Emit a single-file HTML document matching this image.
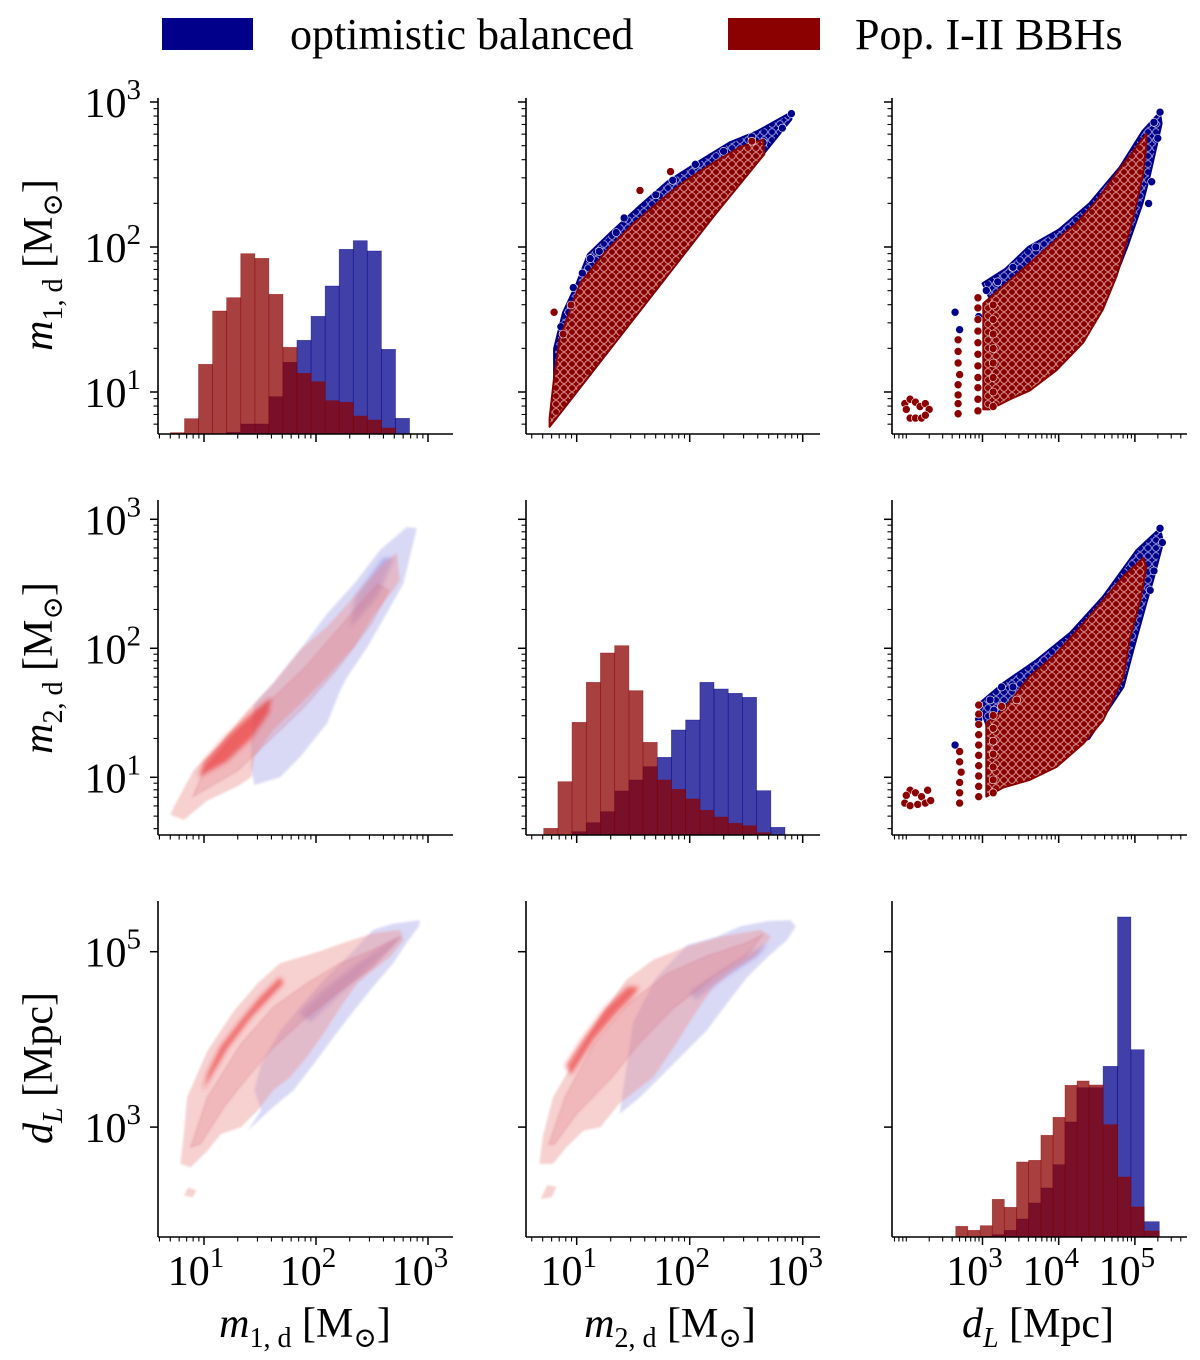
<!DOCTYPE html>
<html><head><meta charset="utf-8">
<style>
html,body{margin:0;padding:0;background:#fff;}
svg{display:block;}
text{font-family:"Liberation Serif","DejaVu Serif",serif;fill:#000;}
</style></head>
<body>
<svg id="fig" xmlns="http://www.w3.org/2000/svg" width="1200" height="1360" viewBox="0 0 1200 1360">
<defs>
<pattern id="dotsR" width="8" height="8" patternUnits="userSpaceOnUse">
<rect width="8" height="8" fill="#8b0000"/>
<circle cx="4" cy="4" r="3.4" fill="#8b0000" stroke="#e8b8b8" stroke-width="0.8"/>
</pattern>
<pattern id="dotsB" width="8" height="8" patternUnits="userSpaceOnUse">
<rect width="8" height="8" fill="#00008b"/>
<circle cx="4" cy="4" r="3.4" fill="#00008b" stroke="#b8b8e8" stroke-width="0.8"/>
</pattern>
<filter id="soft" x="-20%" y="-20%" width="140%" height="140%"><feGaussianBlur stdDeviation="1"/></filter>
<filter id="soft2" x="-20%" y="-20%" width="140%" height="140%"><feGaussianBlur stdDeviation="2.5"/></filter>
</defs>
<g>
<rect x="162" y="18" width="91" height="32" fill="#00008b"/>
<text x="290" y="49" font-size="44">optimistic balanced</text>
<rect x="728" y="18" width="92" height="32" fill="#8b0000"/>
<text x="855" y="49" font-size="44">Pop. I-II BBHs</text>
</g>
<g id="plots"></g>
<g>
<text transform="translate(52,265) rotate(-90)" text-anchor="middle" font-size="42"><tspan font-style="italic">m</tspan><tspan font-size="28" dy="10">1, d</tspan><tspan dy="-10"> [M</tspan><tspan font-size="28" dy="10">⊙</tspan><tspan dy="-10">]</tspan></text>
<text transform="translate(52,668) rotate(-90)" text-anchor="middle" font-size="42"><tspan font-style="italic">m</tspan><tspan font-size="28" dy="10">2, d</tspan><tspan dy="-10"> [M</tspan><tspan font-size="28" dy="10">⊙</tspan><tspan dy="-10">]</tspan></text>
<text transform="translate(52,1068) rotate(-90)" text-anchor="middle" font-size="42"><tspan font-style="italic">d</tspan><tspan font-size="28" font-style="italic" dy="10">L</tspan><tspan dy="-10"> [Mpc]</tspan></text>
<text x="305" y="1337" text-anchor="middle" font-size="42"><tspan font-style="italic">m</tspan><tspan font-size="28" dy="10">1, d</tspan><tspan dy="-10"> [M</tspan><tspan font-size="28" dy="10">⊙</tspan><tspan dy="-10">]</tspan></text>
<text x="670" y="1337" text-anchor="middle" font-size="42"><tspan font-style="italic">m</tspan><tspan font-size="28" dy="10">2, d</tspan><tspan dy="-10"> [M</tspan><tspan font-size="28" dy="10">⊙</tspan><tspan dy="-10">]</tspan></text>
<text x="1038" y="1337" text-anchor="middle" font-size="42"><tspan font-style="italic">d</tspan><tspan font-size="28" font-style="italic" dy="10">L</tspan><tspan dy="-10"> [Mpc]</tspan></text>
</g>
</svg>
<script>
// ---------- data (log10 units; hist counts arbitrary) ----------
const m1Edges = [0.700,0.826,0.951,1.077,1.202,1.328,1.454,1.579,1.705,1.830,1.956,2.082,2.207,2.333,2.458,2.584,2.710,2.835];
const m1CountsPop = [4,46,209,369,409,541,527,419,260,182,157,100,95,54,42,18,0];
const m1CountsOpt = [0,0,0,0,5,30,30,112,215,281,353,444,554,580,549,254,47];
const m2Edges = [0.708,0.834,0.959,1.085,1.210,1.336,1.462,1.587,1.713,1.838,1.964,2.090,2.215,2.341,2.466,2.592,2.718,2.843];
const m2CountsPop = [20,160,338,458,546,568,433,278,165,137,108,74,54,35,28,7,0];
const m2CountsOpt = [0,0,10,37,70,132,165,205,233,315,345,458,438,425,413,133,23];
const dlEdges = [2.649,2.807,2.970,3.128,3.286,3.447,3.605,3.767,3.925,4.083,4.241,4.399,4.583,4.772,4.947,5.122,5.320];
const dlCountsPop = [32,20,34,113,89,225,230,305,359,455,468,456,337,180,90,18];
const dlCountsOpt = [0,0,2,7,20,54,102,147,217,345,448,448,512,960,562,46];

// scatter envelopes (m2 vs m1)
const s12PopBand = [[0.76,0.82],[0.80,1.10],[0.85,1.37],[1.03,1.75],[1.27,1.98],[1.50,2.16],[1.74,2.32],[1.97,2.46],[2.21,2.58],[2.45,2.69],[2.65,2.74],[2.66,2.64],[2.20,2.20],[1.60,1.60],[1.10,1.10],[0.76,0.76]];
const s12OptBand = [[0.80,1.30],[0.88,1.55],[1.00,1.75],[1.10,1.95],[1.30,2.10],[1.55,2.28],[1.80,2.45],[2.10,2.60],[2.35,2.72],[2.60,2.80],[2.90,2.93],[2.90,2.88],[2.30,2.30],[1.50,1.50],[0.80,0.80]];
const s12OptPts = [[0.86,1.45],[0.93,1.55],[0.97,1.72],[1.05,1.82],[1.12,1.92],[1.20,1.97],[1.35,2.10],[1.42,2.20],[1.70,2.36],[1.85,2.46],[2.05,2.57],[2.30,2.66],[2.55,2.76],[2.65,2.72],[2.82,2.82],[2.90,2.92]];
const s12PopPts = [[0.80,1.55],[0.88,1.40],[1.56,2.39],[1.83,2.52],[2.55,2.73],[0.95,1.60]];
// dL vs m1
const s13PopBand = [[3.01,1.61],[3.36,1.77],[3.71,1.93],[3.97,2.05],[4.23,2.16],[4.50,2.32],[4.76,2.51],[5.02,2.69],[5.15,2.78],[5.15,2.70],[5.11,2.51],[4.98,2.21],[4.85,1.96],[4.76,1.80],[4.58,1.57],[4.32,1.34],[3.97,1.15],[3.62,1.01],[3.36,0.95],[3.10,0.88],[3.01,0.88]];
const s13OptBand = [[3.00,1.75],[3.30,1.85],[3.60,2.00],[4.00,2.12],[4.40,2.30],[4.80,2.55],[5.10,2.80],[5.33,2.93],[5.35,2.85],[5.20,2.50],[5.10,2.30],[4.90,2.00],[4.60,1.60],[3.50,1.20]];
const s13PopPts = [[1.98,0.92],[2.05,0.95],[2.12,0.93],[2.18,0.90],[2.25,0.92],[2.30,0.88],[2.05,0.82],[2.12,0.82],[2.20,0.82],[2.25,0.84],[2.00,0.88],
 [2.68,0.85],[2.68,0.92],[2.68,0.98],[2.68,1.05],[2.70,1.12],[2.68,1.20],[2.68,1.28],[2.68,1.36],
 [2.94,0.87],[2.94,0.95],[2.94,1.03],[2.94,1.10],[2.94,1.18],[2.94,1.26],[2.94,1.34],[2.94,1.42],[2.94,1.50],[2.94,1.58],[2.94,1.65],
 [3.14,0.90],[3.14,1.00],[3.14,1.10],[3.14,1.20],[3.14,1.30],[3.14,1.40],[3.14,1.50],[3.14,1.60]];
const s13OptPts = [[2.64,1.55],[2.70,1.43],[2.95,1.52],[3.05,1.70],[3.20,1.76],[3.40,1.86],[3.70,2.00],[5.33,2.93],[5.25,2.86],[5.30,2.75],[5.22,2.45],[5.18,2.30]];
// dL vs m2
const s23PopBand = [[3.05,1.42],[3.27,1.52],[3.62,1.78],[3.97,1.96],[4.32,2.19],[4.58,2.37],[4.85,2.56],[5.11,2.70],[5.15,2.63],[5.07,2.37],[4.93,2.07],[4.85,1.78],[4.58,1.44],[4.32,1.26],[3.97,1.08],[3.62,0.98],[3.27,0.92],[3.05,0.85]];
const s23OptBand = [[2.95,1.57],[3.27,1.73],[3.71,1.91],[4.15,2.12],[4.58,2.40],[5.02,2.76],[5.33,2.93],[5.37,2.82],[5.24,2.53],[5.15,2.35],[4.98,1.99],[4.85,1.70],[4.40,1.30],[3.30,1.00]];
const s23PopPts = [[1.98,0.80],[2.05,0.90],[2.12,0.88],[2.20,0.85],[2.28,0.90],[2.05,0.78],[2.15,0.79],[2.25,0.80],[2.32,0.82],[2.00,0.86],
 [2.70,0.80],[2.70,0.88],[2.70,0.96],[2.72,1.04],[2.70,1.12],[2.70,1.20],
 [2.95,0.85],[2.95,0.93],[2.95,1.01],[2.95,1.09],[2.95,1.17],[2.95,1.25],[2.95,1.33],[2.95,1.41],[2.95,1.49],[2.95,1.56],
 [3.14,0.88],[3.14,0.98],[3.14,1.08],[3.14,1.18],[3.14,1.28],[3.14,1.38],[3.14,1.48],[3.25,1.55],[3.45,1.60]];
const s23OptPts = [[2.64,1.25],[2.95,1.45],[3.10,1.60],[3.25,1.70],[3.15,1.52],[3.40,1.70],[5.33,2.93],[5.36,2.82],[5.25,2.60],[5.20,2.45]];

// KDE contours (m1 vs m2)
const k12PopOuter = [[0.70,0.71],[0.82,0.67],[1.03,0.82],[1.30,0.93],[1.42,1.00],[1.45,1.16],[1.62,1.37],[1.86,1.57],[2.10,1.78],[2.34,2.01],[2.51,2.25],[2.69,2.45],[2.75,2.53],[2.72,2.74],[2.57,2.63],[2.34,2.40],[2.10,2.17],[1.86,1.99],[1.62,1.73],[1.39,1.52],[1.15,1.26],[0.91,1.06],[0.73,0.77]];
const k12PopMid = [[0.90,0.85],[1.30,1.05],[1.60,1.30],[1.90,1.55],[2.20,1.85],[2.50,2.20],[2.65,2.45],[2.55,2.50],[2.20,2.15],[1.90,1.85],[1.60,1.60],[1.30,1.35],[1.00,1.05]];
const k12PopCore = [[0.95,1.00],[1.20,1.12],[1.42,1.30],[1.58,1.50],[1.60,1.62],[1.45,1.52],[1.20,1.32],[1.00,1.12]];
const k12OptOuter = [[1.45,0.94],[1.68,1.00],[1.86,1.16],[2.10,1.42],[2.22,1.68],[2.28,1.78],[2.46,2.01],[2.63,2.27],[2.78,2.50],[2.90,2.93],[2.81,2.94],[2.57,2.76],[2.34,2.50],[2.10,2.27],[1.86,1.99],[1.62,1.73],[1.45,1.57],[1.42,1.26],[1.42,1.06]];
const k12OptCore = [[2.30,2.15],[2.55,2.40],[2.70,2.70],[2.60,2.70],[2.35,2.40]];
// KDE (m1 vs dL)
const k13PopOuter = [[0.79,2.58],[0.82,2.92],[0.85,3.34],[1.03,3.87],[1.27,4.33],[1.48,4.64],[1.68,4.87],[1.92,4.96],[2.07,5.02],[2.22,5.09],[2.51,5.21],[2.75,5.25],[2.78,5.13],[2.66,4.94],[2.51,4.79],[2.37,4.64],[2.22,4.37],[2.07,4.07],[1.92,3.80],[1.77,3.57],[1.62,3.42],[1.48,3.19],[1.33,3.00],[1.15,2.92],[1.03,2.73],[0.88,2.54]];
const k13PopBlob = [[0.82,2.22],[0.90,2.20],[0.93,2.28],[0.86,2.31]];
const k13PopMid = [[0.88,2.77],[1.03,3.34],[1.33,3.95],[1.62,4.37],[1.92,4.64],[2.22,4.87],[2.51,5.02],[2.75,5.17],[2.51,4.83],[2.22,4.56],[1.92,4.26],[1.62,3.91],[1.39,3.57],[1.18,3.23],[0.97,2.81]];
const k13PopCore = [[0.99,3.42],[1.21,3.90],[1.42,4.25],[1.62,4.52],[1.71,4.64],[1.68,4.71],[1.50,4.48],[1.33,4.22],[1.15,3.92],[1.03,3.61]];
const k13OptOuter = [[1.39,2.96],[1.51,3.19],[1.45,3.42],[1.51,3.72],[1.68,4.10],[1.86,4.37],[2.07,4.68],[2.28,4.94],[2.51,5.25],[2.69,5.32],[2.93,5.36],[2.92,5.29],[2.81,5.10],[2.69,4.87],[2.51,4.60],[2.34,4.33],[2.16,4.03],[1.98,3.72],[1.80,3.42],[1.62,3.23]];
const k13OptCore = [[1.95,4.20],[2.20,4.50],[2.50,4.85],[2.75,5.15],[2.80,5.20],[2.65,5.10],[2.35,4.85],[2.05,4.55],[1.85,4.30]];
// KDE (m2 vs dL)
const k23PopOuter = [[0.67,2.58],[0.70,2.89],[0.79,3.34],[1.03,3.87],[1.21,4.26],[1.44,4.68],[1.68,4.91],[1.98,5.06],[2.27,5.17],[2.63,5.25],[2.72,5.17],[2.57,4.94],[2.39,4.79],[2.21,4.60],[2.03,4.26],[1.86,3.91],[1.68,3.57],[1.38,3.27],[1.21,3.00],[1.06,2.96],[0.91,2.77],[0.79,2.58]];
const k23PopBlob = [[0.68,2.18],[0.78,2.20],[0.82,2.32],[0.74,2.34]];
const k23PopMid = [[0.75,2.80],[0.90,3.35],[1.15,3.95],[1.45,4.40],[1.80,4.75],[2.15,4.95],[2.50,5.10],[2.65,5.20],[2.50,4.95],[2.20,4.70],[1.85,4.35],[1.55,3.95],[1.30,3.55],[1.00,3.15],[0.80,2.80]];
const k23PopCore = [[0.95,3.60],[1.15,4.00],[1.35,4.30],[1.50,4.50],[1.55,4.60],[1.45,4.60],[1.25,4.35],[1.05,4.00],[0.90,3.70]];
const k23OptOuter = [[1.38,3.15],[1.56,3.34],[1.74,3.57],[1.98,3.88],[2.15,4.10],[2.33,4.41],[2.51,4.71],[2.69,4.94],[2.86,5.13],[2.94,5.29],[2.89,5.36],[2.69,5.35],[2.45,5.29],[2.24,5.17],[1.98,5.08],[1.70,4.70],[1.50,4.20]];
const k23OptCore = [[2.00,4.55],[2.30,4.80],[2.55,5.00],[2.70,5.10],[2.60,4.95],[2.30,4.70],[2.05,4.45]];

// ---------- layout ----------
const NS = "http://www.w3.org/2000/svg";
const root = document.getElementById('plots');
const cols = [
  {x0:204, v0:1, d:112, left:158, right:453},
  {x0:576.7, v0:1, d:113, left:526, right:820},
  {x0:982.5, v0:3, d:76.2, left:892, right:1187}
];
const rows = [
  {y0:247, v0:2, d:145, top:98, bottom:434, majors:[1,2,3], minors:true},
  {y0:648.3, v0:2, d:129, top:500, bottom:835, majors:[1,2,3], minors:true},
  {y0:951.7, v0:5, d:87.7, top:901, bottom:1237, majors:[3,5], minors:false}
];
const colMajors = [[1,2,3],[1,2,3],[3,4,5]];
function sx(c, v){ return c.x0 + (v - c.v0) * c.d; }
function sy(r, v){ return r.y0 - (v - r.v0) * r.d; }
function el(tag, attrs, parent){
  const e = document.createElementNS(NS, tag);
  for (const k in attrs) e.setAttribute(k, attrs[k]);
  (parent || root).appendChild(e);
  return e;
}
function pts(c, r, arr){ return arr.map(p => sx(c,p[0]).toFixed(1)+','+sy(r,p[1]).toFixed(1)).join(' '); }
function clipFor(id, c, r){
  const cp = el('clipPath', {id:id});
  el('rect', {x:c.left, y:r.top-30, width:c.right-c.left+20, height:r.bottom-r.top+30}, cp);
  return 'url(#'+id+')';
}

function poly(g, c, r, arr, fill, name, extra){
  const p = el('polygon', Object.assign({points: pts(c,r,arr), fill: fill}, extra||{}), g);
  
  
  return p;
}
function dots(g, c, r, arr, fill, name){
  arr.forEach(pt => {
    const d = el('circle', {cx: sx(c,pt[0]), cy: sy(r,pt[1]), r: 4, fill: fill, stroke: '#fff', 'stroke-width': 0.6}, g);
    
    
  });
}
function hist(g, c, r, edges, counts, fill, stroke, name){
  const k = 1/3;
  counts.forEach((v, i) => {
    if (v <= 0) return;
    const x1 = sx(c, edges[i]), x2 = sx(c, edges[i+1]);
    const h = v * k;
    const b = el('rect', {x:x1, y:r.bottom - h, width:x2-x1, height:h, fill:fill, 'fill-opacity':0.75, stroke:stroke, 'stroke-opacity':0.5, 'stroke-width':0.7}, g);
    
    
  });
}

function axes(ci, ri){
  const c = cols[ci], r = rows[ri];
  const g = el('g', {});
  
  
  el('line', {x1:c.left, y1:r.top, x2:c.left, y2:r.bottom, stroke:'#000', 'stroke-width':1.6}, g);
  el('line', {x1:c.left, y1:r.bottom, x2:c.right, y2:r.bottom, stroke:'#000', 'stroke-width':1.6}, g);
  const xm = colMajors[ci];
  for (let e = 0; e <= 5; e++) for (let m = 1; m <= 9; m++){
    const v = e + Math.log10(m);
    const px = sx(c, v);
    if (px < c.left + 1 || px > c.right - 1) continue;
    const major = (m === 1 && xm.indexOf(e) >= 0);
    el('line', {x1:px, y1:r.bottom, x2:px, y2:r.bottom + (major?8:4.5), stroke:'#000', 'stroke-width': major?1.5:1.1}, g);
    if (major && ri === 2){
      const t = el('text', {x:px-8, y:1285, 'text-anchor':'middle', 'font-size':42}, g);
      
      
      t.innerHTML = '10<tspan font-size="29" dy="-18">'+e+'</tspan>';
    }
  }
  for (let e = 0; e <= 5; e++) for (let m = 1; m <= 9; m++){
    const v = e + Math.log10(m);
    const py = sy(r, v);
    if (py < r.top + 1 || py > r.bottom - 1) continue;
    const major = (m === 1 && r.majors.indexOf(e) >= 0);
    if (!major && !r.minors) continue;
    el('line', {x1:c.left, y1:py, x2:c.left - (major?8:4.5), y2:py, stroke:'#000', 'stroke-width': major?1.5:1.1}, g);
    if (major && ci === 0){
      const t = el('text', {x:141, y:py+15, 'text-anchor':'end', 'font-size':42}, g);
      
      
      t.innerHTML = '10<tspan font-size="29" dy="-18">'+e+'</tspan>';
    }
  }
}

function panel(ci, ri, name){
  const g = el('g', {'clip-path': clipFor('clip'+ri+ci, cols[ci], rows[ri])});
  
  
  return g;
}

let g = panel(0,0,'hist-m1');
hist(g, cols[0], rows[0], m1Edges, m1CountsOpt, '#00008b', '#00008b', 'hist-bar-optimistic');
hist(g, cols[0], rows[0], m1Edges, m1CountsPop, '#8b0000', '#8b0000', 'hist-bar-pop');
g = panel(1,1,'hist-m2');
hist(g, cols[1], rows[1], m2Edges, m2CountsOpt, '#00008b', '#00008b', 'hist-bar-optimistic');
hist(g, cols[1], rows[1], m2Edges, m2CountsPop, '#8b0000', '#8b0000', 'hist-bar-pop');
g = panel(2,2,'hist-dl');
hist(g, cols[2], rows[2], dlEdges, dlCountsOpt, '#00008b', '#00008b', 'hist-bar-optimistic');
hist(g, cols[2], rows[2], dlEdges, dlCountsPop, '#8b0000', '#8b0000', 'hist-bar-pop');

function scatter(ci, ri, name, optBand, popBand, optPts, popPts){
  const c = cols[ci], r = rows[ri];
  const g = panel(ci, ri, name);
  poly(g, c, r, optBand, 'url(#dotsB)', 'scatter-region-optimistic', {stroke:'#00008b','stroke-width':2,'stroke-linejoin':'round'});
  dots(g, c, r, optPts, '#00008b', 'scatter-point-optimistic');
  poly(g, c, r, popBand, 'url(#dotsR)', 'scatter-region-pop', {stroke:'#8b0000','stroke-width':2,'stroke-linejoin':'round'});
  dots(g, c, r, popPts, '#8b0000', 'scatter-point-pop');
}
scatter(1,0,'scatter-m2-m1', s12OptBand, s12PopBand, s12OptPts, s12PopPts);
scatter(2,0,'scatter-dl-m1', s13OptBand, s13PopBand, s13OptPts, s13PopPts);
scatter(2,1,'scatter-dl-m2', s23OptBand, s23PopBand, s23OptPts, s23PopPts);

function kde(ci, ri, name, optOuter, optCore, popOuter, popMid, popCore, popBlob){
  const c = cols[ci], r = rows[ri];
  const g = panel(ci, ri, name);
  poly(g, c, r, optOuter, 'rgba(170,170,235,0.45)', 'kde-outer-optimistic', {filter:'url(#soft)'});
  poly(g, c, r, optCore, 'rgba(120,100,210,0.4)', 'kde-core-optimistic', {filter:'url(#soft2)'});
  poly(g, c, r, popOuter, 'rgba(238,150,150,0.45)', 'kde-outer-pop', {filter:'url(#soft)'});
  if (popBlob) poly(g, c, r, popBlob, 'rgba(238,150,150,0.45)', 'kde-blob-pop', {filter:'url(#soft)'});
  poly(g, c, r, popMid, 'rgba(215,100,110,0.22)', 'kde-mid-pop', {filter:'url(#soft)', stroke:'rgba(200,90,100,0.3)', 'stroke-width':0.8});
  poly(g, c, r, popCore, 'rgba(235,40,40,0.6)', 'kde-core-pop', {filter:'url(#soft2)'});
}
kde(0,1,'kde-m1-m2', k12OptOuter, k12OptCore, k12PopOuter, k12PopMid, k12PopCore, null);
kde(0,2,'kde-m1-dl', k13OptOuter, k13OptCore, k13PopOuter, k13PopMid, k13PopCore, k13PopBlob);
kde(1,2,'kde-m2-dl', k23OptOuter, k23OptCore, k23PopOuter, k23PopMid, k23PopCore, k23PopBlob);

for (let ri = 0; ri < 3; ri++) for (let ci = 0; ci < 3; ci++) axes(ci, ri);
</script>
</body></html>
